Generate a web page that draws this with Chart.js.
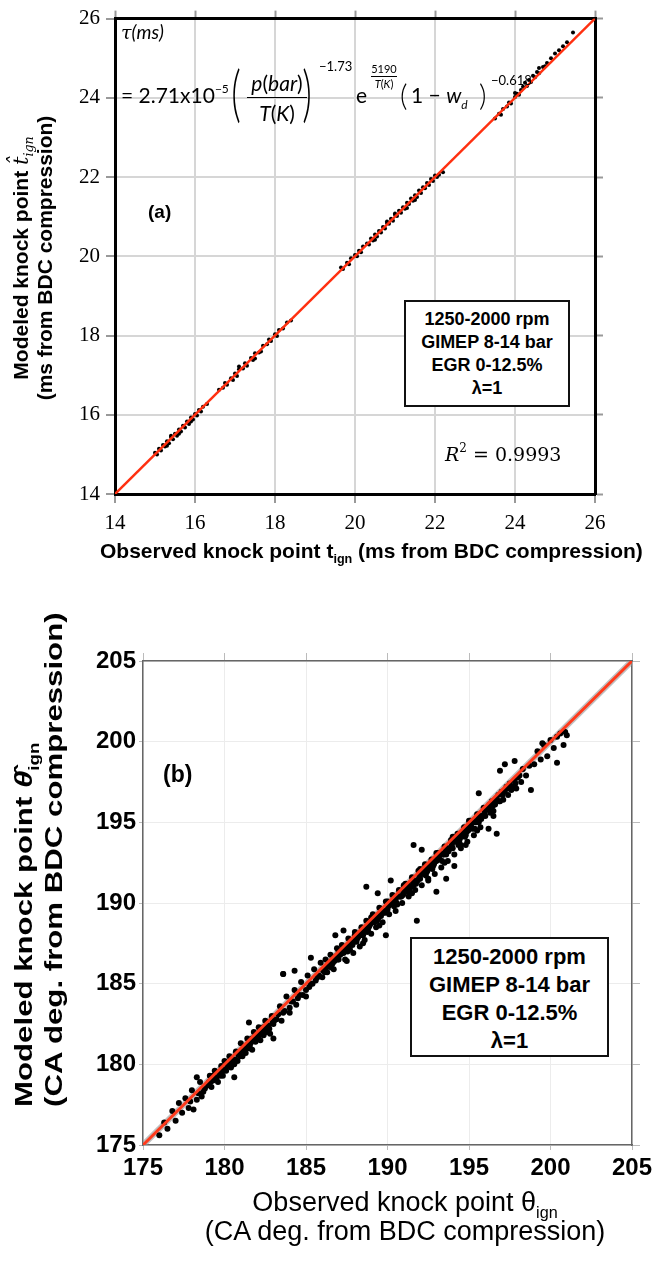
<!DOCTYPE html>
<html><head><meta charset="utf-8">
<script src="https://cdn.jsdelivr.net/npm/chart.js@4.4.0/dist/chart.umd.min.js"></script>
<style>
html,body{margin:0;padding:0;background:#fff;}
body{width:652px;height:1262px;position:relative;overflow:hidden;}
canvas{position:absolute;left:0;}
#c1{top:0;}
#c2{top:600px;}
.ann{position:absolute;white-space:nowrap;color:#000;line-height:1;}
.sans{font-family:'Liberation Sans',Arial,sans-serif;}
.box{position:absolute;border:2px solid #111;background:#fff;text-align:center;font-weight:bold;font-family:'Liberation Sans',Arial,sans-serif;}
.rot{position:absolute;transform-origin:center center;white-space:nowrap;}
.fx{position:absolute;white-space:nowrap;font-family:Lato,'Open Sans',sans-serif;color:#000;line-height:1;}
.sb{font-size:0.6em;position:relative;line-height:0;}
</style></head>
<body>
<canvas id="c1" width="652" height="600"></canvas>
<canvas id="c2" width="680" height="662"></canvas>

<!-- chart (a) annotations -->
<div class="fx" style="left:121px;top:22px;font-size:19px;"><span style="font-family:'DejaVu Serif';font-style:italic">τ</span><i>(ms)</i></div>
<div class="fx" style="left:121px;top:84px;font-size:21px;">= 2.71x10<span style="font-size:12px;position:relative;top:-10px">−5</span></div>
<div class="fx" style="left:228px;top:60px;font-size:62px;font-weight:300;transform:scaleX(0.6);">(</div>
<div class="fx" style="left:246px;top:72px;font-size:21px;width:62px;text-align:center;"><i>p</i>(<i>bar</i>)</div>
<div style="position:absolute;left:247px;top:97px;width:60px;height:1px;background:#000;"></div>
<div class="fx" style="left:246px;top:102px;font-size:21px;width:62px;text-align:center;"><i>T</i>(<i>K</i>)</div>
<div class="fx" style="left:299px;top:60px;font-size:62px;font-weight:300;transform:scaleX(0.6);">)</div>
<div class="fx" style="left:319px;top:60px;font-size:13px;">−1.73</div>
<div class="fx" style="left:356px;top:84px;font-size:21px;">e</div>
<div class="fx" style="left:369px;top:63px;font-size:11px;width:30px;text-align:center;">5190</div>
<div style="position:absolute;left:371px;top:76px;width:26px;height:1px;background:#000;"></div>
<div class="fx" style="left:369px;top:78px;font-size:11px;width:30px;text-align:center;"><i>T</i>(<i>K</i>)</div>
<div class="fx" style="left:400px;top:80px;font-size:29px;font-weight:300;">(</div>
<div class="fx" style="left:411px;top:84px;font-size:21px;">1 − <i>w</i><span style="font-size:12px;position:relative;top:6px"><i>d</i></span></div>
<div class="fx" style="left:479px;top:80px;font-size:29px;font-weight:300;">)</div>
<div class="fx" style="left:491px;top:74px;font-size:13px;">−0.618</div>

<div class="ann sans" style="left:148px;top:202px;font-size:19px;font-weight:bold;">(a)</div>
<div class="box" style="left:404px;top:300px;width:166px;height:107px;font-size:18px;line-height:23px;padding-top:6px;box-sizing:border-box;">1250-2000 rpm<br>GIMEP 8-14 bar<br>EGR 0-12.5%<br>λ=1</div>
<div class="ann" style="left:445px;top:445px;font-family:'DejaVu Serif';font-size:19px;"><i>R</i><sup style="font-size:12px;position:relative;top:-2px;line-height:0">2</sup> = 0.9993</div>

<div class="ann sans" style="left:100px;top:540px;font-size:21px;font-weight:bold;">Observed knock point t<span class="sb" style="top:5px">ign</span> (ms from BDC compression)</div>
<div class="rot sans" style="left:-167px;top:234px;width:400px;height:48px;transform:rotate(-90deg);text-align:center;font-size:21px;font-weight:bold;line-height:24px;">Modeled knock point <span style="font-family:'DejaVu Serif';font-style:italic;font-weight:normal">t̂</span><span class="sb" style="top:5px;font-family:'DejaVu Serif';font-style:italic;font-weight:normal">ign</span><br>(ms from BDC compression)</div>

<!-- chart (b) annotations -->
<div class="ann sans" style="left:163px;top:763px;font-size:23px;font-weight:bold;">(b)</div>
<div class="box" style="left:410px;top:937px;width:199px;height:120px;font-size:22px;line-height:28px;padding-top:4px;box-sizing:border-box;">1250-2000 rpm<br>GIMEP 8-14 bar<br>EGR 0-12.5%<br>λ=1</div>
<div class="ann sans" style="left:0;width:810px;text-align:center;top:1188px;font-size:27px;line-height:29px;">Observed knock point θ<span class="sb" style="top:7px">ign</span><br>(CA deg. from BDC compression)</div>
<div class="rot sans" style="left:-151px;top:830px;width:380px;height:60px;transform:rotate(-90deg) scaleX(1.3);text-align:left;font-size:24px;font-weight:bold;line-height:30px;">Modeled knock point <i>θ̂</i><span class="sb" style="top:7px">ign</span><br>(CA deg. from BDC compression)</div>

<script>
// ---------- data: chart (a) ----------
const ticksA = [14, 16, 18, 20, 22, 24, 26];
const fitA = [14, 26];
const obsA = [
 15.0,15.05,15.1,15.15,15.2,15.25,15.3,15.35,15.4,15.45,15.5,15.55,15.6,15.65,15.7,15.75,15.8,15.85,15.9,15.95,16.0,16.05,16.1,16.15,16.2,16.3,15.3,15.6,15.9,15.4,
 16.6,16.7,16.75,16.8,16.9,16.95,17.0,17.05,17.1,17.2,17.25,17.3,17.4,17.45,17.5,17.6,17.65,17.7,17.8,17.85,17.9,18.0,18.05,18.1,18.2,18.3,18.4,17.1,17.5,
 19.65,19.7,19.8,19.85,19.9,20.0,20.05,20.1,20.15,20.2,20.3,20.35,20.4,20.45,20.5,20.55,20.6,20.65,20.7,20.75,20.8,20.85,20.9,20.95,21.0,21.05,21.1,21.15,21.2,21.25,21.3,21.35,21.4,21.45,21.5,21.55,21.6,21.65,21.7,21.75,21.8,21.85,21.9,21.95,22.0,22.05,22.1,22.2,20.5,21.0,21.5,20.8,21.3,
 23.5,23.6,23.65,23.7,23.8,23.85,23.9,24.0,24.05,24.1,24.15,24.2,24.3,24.35,24.4,24.45,24.5,24.55,24.6,24.7,24.75,24.8,24.9,25.0,25.1,25.2,25.3,25.45,24.0,24.25,24.6
];
const modA = [
 15.04,15.0,15.14,15.1,15.24,15.2,15.33,15.28,15.44,15.38,15.52,15.47,15.63,15.58,15.72,15.68,15.83,15.77,15.93,15.88,16.02,15.98,16.12,16.08,16.2,16.27,15.22,15.52,15.83,15.47,
 16.63,16.68,16.8,16.76,16.92,16.88,17.04,16.98,17.15,17.17,17.3,17.24,17.43,17.38,17.55,17.57,17.6,17.74,17.78,17.9,17.86,18.03,17.99,18.14,18.18,18.33,18.38,17.22,17.42,
 19.72,19.68,19.84,19.8,19.95,20.03,20.0,20.14,20.1,20.25,20.32,20.3,20.45,20.4,20.55,20.5,20.64,20.6,20.74,20.7,20.84,20.82,20.95,20.9,21.05,21.02,21.15,21.1,21.24,21.2,21.35,21.32,21.46,21.4,21.54,21.5,21.66,21.6,21.74,21.72,21.85,21.8,21.95,21.9,22.04,22.0,22.06,22.12,20.42,21.08,21.42,20.88,21.22,
 23.48,23.6,23.57,23.72,23.78,23.88,23.86,24.02,24.1,24.08,24.2,24.28,24.3,24.45,24.4,24.56,24.52,24.65,24.62,24.78,24.8,24.88,25.0,25.12,25.2,25.3,25.4,25.65,24.12,24.38,24.75
];

// ---------- data: chart (b) ----------
const ticksB = [175, 180, 185, 190, 195, 200, 205];
const fitB = [175, 205];
const obsB = [
 176.0,176.3,176.5,176.8,177.0,177.2,177.4,177.6,177.8,178.0,178.1,178.3,178.5,178.6,178.8,
 179.0,179.1,179.2,179.3,179.4,179.5,179.6,179.7,179.8,179.9,180.0,180.1,180.2,180.3,180.4,180.5,180.6,180.7,180.8,180.9,181.0,181.1,181.2,181.3,181.4,181.5,181.6,181.7,181.8,181.9,182.0,182.1,182.2,182.3,182.4,182.5,182.6,182.7,182.8,182.9,183.0,183.2,183.4,183.5,
 183.6,183.8,184.0,184.1,184.3,184.4,184.5,184.7,184.8,185.0,185.1,185.2,185.4,185.5,185.6,185.8,185.9,186.0,183.6,184.3,
 186.1,186.2,186.3,186.4,186.5,186.6,186.7,186.8,186.9,187.0,187.1,187.2,187.3,187.4,187.5,187.6,187.7,187.8,187.9,188.0,188.1,188.2,188.3,188.4,188.5,188.6,188.7,188.8,188.9,189.0,189.1,189.2,189.3,189.4,189.5,189.6,189.7,189.8,189.9,190.0,190.1,190.2,190.3,190.4,190.5,190.6,190.7,190.8,190.9,191.0,
 191.1,191.2,191.3,191.4,191.5,191.6,191.7,191.8,191.9,192.0,192.1,192.2,192.3,192.4,192.5,192.6,192.7,192.8,192.9,193.0,193.1,193.2,193.3,193.4,193.5,193.6,193.7,193.8,193.9,194.0,194.1,194.2,194.3,194.4,194.5,194.6,194.7,194.8,194.9,195.0,195.1,195.2,195.3,195.4,195.5,195.6,195.7,195.8,195.9,196.0,196.2,196.4,196.5,
 196.6,196.8,196.9,197.0,197.1,197.3,197.4,197.5,197.6,197.8,197.9,198.0,198.2,198.3,198.5,198.7,
 199.0,199.2,199.4,199.6,199.8,200.0,200.2,200.4,200.6,200.8,201.0,200.9,199.5,
 191.8,196.7,200.4,191.6,188.7,183.6,193.0,193.6,186.8,189.4,194.8,197.2,
 179.15,179.45,179.75,180.05,180.35,180.65,180.95,181.25,181.55,181.85,182.15,182.45,182.75,183.05,179.3,180.2,181.0,181.7,182.4,
 186.15,186.35,186.55,186.75,186.95,187.15,187.35,187.55,187.75,187.95,188.15,188.35,188.55,188.75,188.95,189.15,189.35,189.55,189.75,189.95,190.15,190.35,190.55,190.75,190.95,
 191.15,191.35,191.55,191.75,191.95,192.15,192.35,192.55,192.75,192.95,193.15,193.35,193.55,193.75,193.95,194.15,194.35,194.55,194.75,194.95,195.15,195.35,195.55,195.75,195.95,196.1,196.3,196.7,197.2,197.7,
 187.0,188.0,189.0,190.0,191.0,192.0,193.0,194.0,195.0,
 187.5,188.5,189.5,190.5,191.5,192.5,193.5,194.5,195.5,196.5,184.0,185.0,
 187.3,190.2,192.1,185.3,181.5,178.3,195.6,196.9,197.8,
 189.9,194.1,196.2,198.8,180.6,183.0,
 186.05,186.25,186.45,186.65,186.85,187.05,187.25,187.45,187.65,187.85,188.05,188.25,188.45,188.65,188.85,189.05,189.25,189.45,189.65,189.85,190.05,190.25,190.45,190.65,190.85,
 191.05,191.25,191.45,191.65,191.85,192.05,192.25,192.45,192.65,192.85,193.05,193.25,193.45,193.65,193.85,194.05,194.25,194.45,194.65,194.85,195.05,195.25,195.45,195.65,195.85,196.05,196.25,196.45,196.65,196.85,197.05,197.45,197.85,198.1,
 179.05,179.35,179.65,179.95,180.25,180.55,180.85,181.15,181.45,181.75,182.05,182.35,182.65,182.95,183.3,183.7,184.2,184.6,185.3,185.7,177.9,178.4,178.7
];
const modB = [
 175.6,176.4,176.0,177.1,176.5,177.6,177.0,177.9,177.3,178.4,177.2,177.8,178.9,178.0,178.5,
 178.7,179.3,178.6,179.0,179.6,179.1,178.9,179.5,179.9,179.3,180.2,179.6,179.9,180.5,179.8,180.3,180.0,180.8,180.2,180.6,181.3,180.5,181.0,180.7,181.6,181.0,181.3,180.9,182.0,181.4,181.7,182.3,181.5,182.0,181.8,182.7,182.0,182.4,181.9,183.0,182.5,182.8,183.6,182.7,
 183.2,184.2,183.5,183.9,184.6,183.7,184.1,185.1,184.3,184.6,185.5,184.8,185.0,185.9,185.2,185.5,186.3,185.4,185.6,185.8,
 185.9,186.5,185.7,186.1,186.8,186.2,185.9,186.6,187.2,186.5,186.8,187.4,186.9,186.5,187.3,187.8,187.1,187.5,186.9,188.2,187.6,187.9,187.3,188.5,188.0,187.7,188.9,188.3,188.6,188.1,189.3,188.8,188.5,189.0,189.7,189.2,188.8,189.5,190.1,189.6,189.3,190.0,190.5,189.8,190.2,189.9,190.8,190.4,190.0,190.6,
 191.2,190.7,190.4,191.0,191.6,191.1,190.8,191.4,192.0,191.5,191.1,191.8,192.4,191.9,191.4,192.2,192.7,192.3,191.8,192.6,193.1,192.7,192.2,193.0,193.5,193.0,192.6,193.4,193.9,193.4,193.0,193.8,194.3,193.8,193.4,194.2,194.7,194.2,193.8,194.6,195.1,194.6,194.2,195.0,195.5,195.0,194.7,195.4,195.9,195.4,195.8,196.3,195.7,
 196.1,196.7,196.3,196.9,196.4,197.2,196.7,197.4,197.0,197.6,197.1,197.8,197.5,198.3,197.9,198.5,
 198.6,199.4,198.9,199.8,199.1,200.1,199.6,200.3,200.5,199.8,200.4,200.6,199.9,
 188.9,194.3,198.7,193.6,191.0,185.6,190.7,191.5,188.0,190.6,193.6,198.6,
 178.9,179.2,179.3,179.7,180.1,180.3,180.5,180.9,181.1,181.5,181.8,182.0,182.2,182.7,179.3,180.1,180.8,181.6,182.3,
 185.7,186.1,186.0,186.4,186.5,186.9,187.0,187.0,187.5,187.6,187.8,188.0,188.3,188.2,188.7,188.9,188.9,189.3,189.4,189.5,189.9,190.0,190.0,190.4,190.5,
 190.9,190.8,191.3,191.2,191.6,191.9,191.7,192.2,192.1,192.6,192.9,192.6,193.2,193.2,193.6,193.9,193.6,194.2,194.1,194.5,194.9,194.6,195.2,195.2,195.6,195.9,195.6,196.4,196.9,197.2,
 187.0,188.0,189.1,190.1,191.1,192.1,193.1,194.1,195.1,
 186.4,187.5,188.6,189.5,190.6,191.5,192.5,193.6,194.5,195.4,183.2,184.2,
 188.3,191.4,193.3,186.6,182.6,179.2,196.8,198.2,198.8,
 188.0,192.3,194.6,197.0,179.2,181.6,
 185.8,186.0,186.3,186.3,186.7,186.8,187.1,187.1,187.4,187.4,187.8,188.1,188.1,188.4,188.5,188.8,189.1,189.1,189.4,189.4,189.8,190.1,190.1,190.4,190.4,
 190.8,191.1,191.0,191.4,191.4,191.8,192.1,192.0,192.4,192.4,192.8,193.1,193.0,193.4,193.4,193.8,194.1,194.0,194.4,194.4,194.8,195.1,195.0,195.4,195.4,195.8,196.1,196.0,196.4,196.3,196.7,197.1,197.4,197.9,
 178.9,179.1,179.5,179.6,180.1,180.2,180.6,180.9,181.2,181.5,181.9,182.1,182.3,182.6,183.1,183.3,183.9,184.3,185.0,185.4,177.7,178.2,178.3
];

const pts = (xs, ys) => xs.map((x, i) => ({ x: x, y: ys[i] }));

function axes(cfg) {
  const common = { type: 'linear', min: cfg.min, max: cfg.max };
  const build = s => { s.ticks = cfg.ticks.map(v => ({ value: v })); };
  const side = (pos, size) => Object.assign({}, common, {
    position: pos, afterBuildTicks: build,
    ticks: { display: false },
    grid: { drawOnChartArea: false, tickColor: cfg.tickColor, tickLength: 8, tickWidth: cfg.tickWidth },
    border: { color: cfg.borderColor, width: cfg.borderWidth },
    afterFit: s => { if (pos === 'top') s.height = size; else s.width = size; }
  });
  return {
    x: Object.assign({}, common, {
      position: 'bottom', afterBuildTicks: build,
      ticks: { color: '#000', font: cfg.tickFont, padding: cfg.xPad, maxRotation: 0 },
      grid: { color: cfg.gridColor, lineWidth: cfg.gridWidth, tickColor: cfg.tickColor, tickLength: cfg.tickLen, tickWidth: cfg.tickWidth },
      border: { color: cfg.borderColor, width: cfg.borderWidth },
      afterFit: s => { s.height = cfg.xH; }
    }),
    y: Object.assign({}, common, {
      position: 'left', afterBuildTicks: build,
      ticks: { color: '#000', font: cfg.tickFont, padding: cfg.yPad },
      grid: { color: cfg.gridColor, lineWidth: cfg.gridWidth, tickColor: cfg.tickColor, tickLength: cfg.yTickLen, tickWidth: cfg.tickWidth },
      border: { color: cfg.borderColor, width: cfg.borderWidth },
      afterFit: s => { s.width = cfg.yW; }
    }),
    x2: side('top', 8),
    y2: side('right', 8)
  };
}

const baseOpts = {
  responsive: false, animation: false,
  plugins: { legend: { display: false }, tooltip: { enabled: false } }
};

new Chart(document.getElementById('c1'), {
  type: 'scatter',
  data: { datasets: [
    { type: 'line', data: pts(fitA, fitA), borderColor: '#ff3010', borderWidth: 2.5, pointRadius: 0, order: 0 },
    { data: pts(obsA, modA), backgroundColor: '#000', borderWidth: 0, pointRadius: 2, order: 1 }
  ] },
  options: Object.assign({}, baseOpts, {
    layout: { padding: { top: 7, right: 49, left: 0, bottom: 0 } },
    scales: axes({ min: 14, max: 26, ticks: ticksA,
      tickFont: { family: "'Liberation Serif', 'DejaVu Serif', serif", size: 21 },
      xPad: 8, yPad: 6, gridColor: '#d6d6d6', gridWidth: 2, tickColor: '#999', tickLen: 9, yTickLen: 9, tickWidth: 2,
      borderColor: '#000', borderWidth: 3, xH: 106, yW: 115 })
  })
});

new Chart(document.getElementById('c2'), {
  type: 'scatter',
  data: { datasets: [
    { type: 'line', data: pts(fitB, fitB), borderColor: '#ff3a1c', borderWidth: 3, pointRadius: 0, order: 0 },
    { type: 'line', data: pts(fitB, fitB), borderColor: 'rgba(150,150,150,0.6)', borderWidth: 6, pointRadius: 0, order: 2 },
    { data: pts(obsB, modB), backgroundColor: '#000', borderWidth: 0, pointRadius: 3, order: 1 }
  ] },
  options: Object.assign({}, baseOpts, {
    layout: { padding: { top: 53, right: 40, left: 0, bottom: 0 } },
    scales: axes({ min: 175, max: 205, ticks: ticksB,
      tickFont: { family: "'Liberation Sans', Arial, sans-serif", size: 24, weight: 'bold' },
      xPad: 4, yPad: 3, gridColor: '#ececec', gridWidth: 1, tickColor: '#bbb', tickLen: 5, yTickLen: 4, tickWidth: 1,
      borderColor: '#666', borderWidth: 1.5, xH: 117, yW: 143 })
  })
});
</script>
</body></html>
